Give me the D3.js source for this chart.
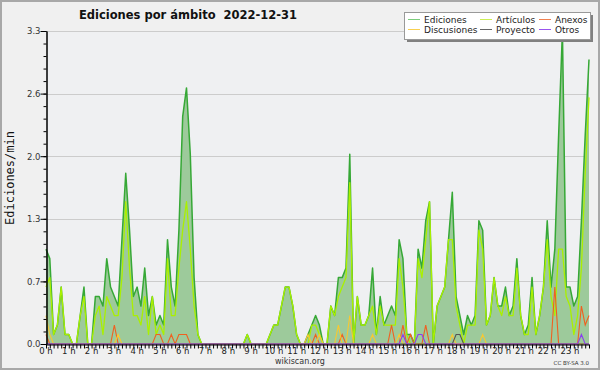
<!DOCTYPE html>
<html><head><meta charset="utf-8">
<script src="https://cdn.jsdelivr.net/npm/d3@7/dist/d3.min.js"></script>
<style>body{margin:0;background:#f0f0f0} svg{display:block}</style>
</head><body><svg id="c" width="600" height="370"></svg>
<script>
// ---- data (10-minute steps, edits/min) ----
const hourLabels = ["0 h","1 h","2 h","3 h","4 h","5 h","6 h","7 h","8 h","9 h","10 h","11 h","12 h","13 h","14 h","15 h","16 h","17 h","18 h","19 h","20 h","21 h","22 h","23 h"];
const yTickLabels = ["0.0","0.7","1.3","2.0","2.6","3.3"];
const yMax = 3.3;
const seriesNames = ["Ediciones","Artículos","Anexos","Discusiones","Proyecto","Otros"];
const ediciones = [1.0,0.9,0.1,0.2,0.6,0.1,0.1,0,0,0.3,
 0.6,0,0,0.5,0.5,0.4,0.9,0.6,0.5,0.4,
 1.1,1.8,1.2,0.5,0.6,0.4,0.8,0.3,0.5,0.2,
 0.3,0.2,1.1,0.6,0.4,1.2,2.4,2.7,2.0,0.7,
 0.1,0,0,0,0,0,0,0,0,0,
 0,0,0,0.1,0,0,0,0,0,0.1,
 0.2,0.2,0.4,0.6,0.6,0.4,0.1,0,0,0.1,
 0.2,0.3,0.2,0,0,0.4,0.3,0.7,0.7,0.8,
 2.0,0,0.5,0.2,0.2,0.3,0.8,0.1,0.5,0.2,
 0.3,0.4,0.3,1.1,0.9,0.1,0.1,0,1.0,0.8,
 1.3,1.5,0,0.4,0.5,0.6,1.1,1.6,0.5,0.3,
 0.1,0.3,0.2,0.3,1.3,1.2,0.2,0.3,0.7,0.4,
 0.4,0.6,0.3,0.4,0.9,0.3,0.1,0.2,0.7,0.1,
 0.3,0.6,1.3,0.6,1.0,2.2,3.3,0.6,0.6,0.4,
 0.5,1.3,2.2,3.0];
const articulos = [0.6,0.7,0.1,0.2,0.6,0.1,0.1,0,0,0.3,
 0.5,0,0,0.3,0.4,0.1,0.5,0.4,0.3,0.3,
 0.7,1.5,0.8,0.3,0.3,0.2,0.5,0.1,0.5,0.1,
 0.2,0.1,0.9,0.3,0.3,0.8,1.2,1.5,1.0,0.4,
 0.1,0,0,0,0,0,0,0,0,0,
 0,0,0,0.1,0,0,0,0,0,0.1,
 0.2,0.2,0.4,0.6,0.6,0.4,0.1,0,0,0,
 0.2,0.2,0.1,0,0,0.4,0.3,0.5,0.6,0.7,
 1.7,0,0.5,0.2,0.2,0.3,0.4,0.1,0.4,0.2,
 0.2,0.2,0.2,0.9,0.6,0.1,0,0,0.9,0.7,
 1.1,1.5,0,0.4,0.5,0.6,1.1,1.1,0.4,0.2,
 0,0.2,0.2,0.2,1.2,1.0,0.2,0.3,0.7,0.4,
 0.3,0.5,0.3,0.3,0.8,0.3,0.1,0.1,0.6,0.1,
 0.3,0.6,1.1,0.5,0.3,1.0,1.0,0.5,0.4,0.1,
 0.3,0.8,1.8,2.6];
const anexos = [0.1,0,0,0,0,0,0,0,0,0,
 0,0,0,0,0,0,0,0,0.2,0,
 0,0,0,0,0,0,0,0,0,0.1,
 0.1,0,0,0.1,0,0.1,0.1,0.1,0,0,
 0,0,0,0,0,0,0,0,0,0,
 0,0,0,0,0,0,0,0,0,0,
 0,0,0,0,0,0,0,0,0,0,
 0,0.1,0,0,0,0,0,0,0.1,0,
 0,0,0,0,0,0,0,0,0,0,
 0,0.2,0,0,0.2,0,0.1,0,0,0,
 0.2,0,0,0,0,0,0,0,0,0,
 0,0,0,0,0,0,0,0,0,0,
 0,0,0,0,0,0,0,0,0,0,
 0,0,0,0,0.6,0,0,0,0,0,
 0,0.4,0.2,0.3];
const discusiones = [0.3,0.1,0,0,0,0,0,0,0,0,
 0,0,0,0,0,0,0,0,0,0.1,
 0,0,0,0,0,0,0,0,0,0,
 0,0,0,0,0,0,0,0,0,0,
 0,0,0,0,0,0,0,0,0,0,
 0,0,0,0,0,0,0,0,0,0,
 0,0,0,0,0,0,0,0,0,0.1,
 0,0,0.1,0,0,0,0,0.2,0,0,
 0.3,0,0,0,0,0,0.1,0,0,0,
 0,0,0,0.1,0,0,0,0,0,0,
 0,0,0,0,0,0,0,0.1,0,0,
 0,0,0,0,0,0.1,0,0,0,0,
 0,0,0,0,0,0,0,0,0,0,
 0,0,0,0,0,0,0,0,0,0,
 0,0,0,0];
const proyecto = [0,0,0,0,0,0,0,0,0,0,
 0,0,0,0,0,0,0,0,0,0,
 0,0,0,0,0,0,0,0,0,0,
 0,0,0,0,0,0,0,0,0,0,
 0,0,0,0,0,0,0,0,0,0,
 0,0,0,0,0,0,0,0,0,0,
 0,0,0,0,0,0,0,0,0,0,
 0,0,0,0,0,0,0,0,0,0,
 0,0,0,0,0,0,0,0,0,0,
 0,0,0,0,0,0,0,0,0,0,
 0,0,0,0,0,0,0,0,0.1,0.1,
 0,0,0,0,0,0,0,0,0,0,
 0,0,0,0,0,0,0,0,0,0,
 0,0,0,0,0,0,0,0,0,0,
 0,0,0,0];
const otros = [0,0,0,0,0,0,0,0,0,0,
 0,0,0,0,0,0,0,0,0,0,
 0,0,0,0,0,0,0,0,0,0,
 0,0,0,0,0,0,0,0,0,0,
 0,0,0,0,0,0,0,0,0,0,
 0,0,0,0,0,0,0,0,0,0,
 0,0,0,0,0,0,0,0,0,0,
 0,0,0,0,0,0,0,0,0,0,
 0,0,0,0,0,0,0,0,0,0,
 0,0,0,0,0.1,0,0,0,0.1,0.1,
 0,0,0,0,0,0,0,0,0,0,
 0,0,0,0,0,0,0,0,0,0,
 0,0,0,0,0,0,0,0,0,0,
 0,0,0,0,0,0,0,0,0,0,
 0,0.1,0,0];

// ---- styles ----
const colors = {"Ediciones":"#36a836","Artículos":"#aaf000","Anexos":"#f06020","Discusiones":"#f8c830","Proyecto":"#555555","Otros":"#8a3ff0"};
const legendColors = {"Ediciones":"#7ccc7c","Artículos":"#ccee55","Anexos":"#f08050","Discusiones":"#f8d050","Proyecto":"#666666","Otros":"#9955ee"};
const FONT = "DejaVu Sans";

const svg = d3.select("#c");
svg.append("rect").attr("x",1).attr("y",1).attr("width",598).attr("height",368)
  .attr("fill","#f0f0f0").attr("stroke","#a8a8a8").attr("stroke-width",2);

const n = ediciones.length;
const x = d3.scaleLinear().domain([0, n-1]).range([46, 589]);
const y = d3.scaleLinear().domain([0, yMax]).range([344, 31]);

// plot background
svg.append("rect").attr("x",x(0)).attr("y",y(yMax)).attr("width",x(n-1)-x(0)).attr("height",y(0)-y(yMax)).attr("fill","#eff0f2");

// grid
const majorY = d3.range(6).map(i => yMax*i/5);
svg.append("g").selectAll("line").data(majorY.slice(1)).join("line")
  .attr("x1",x(0)).attr("x2",x(n-1)).attr("y1",d=>Math.round(y(d))+0.5).attr("y2",d=>Math.round(y(d))+0.5)
  .attr("stroke","#cccccc").attr("stroke-width",1);

// area + lines
const idx = d3.range(n);
const area = d3.area().x(i=>x(i)).y0(y(0)).y1(i=>y(ediciones[i]));
svg.append("path").datum(idx).attr("d",area).attr("fill","#9dca9b");
const lineOf = arr => d3.line().x(i=>x(i)).y(i=>y(arr[i]))(idx);
svg.append("path").attr("d",lineOf(ediciones)).attr("fill","none").attr("stroke",colors["Ediciones"]).attr("stroke-width",1.5).attr("stroke-linejoin","round");
svg.append("path").attr("d",lineOf(articulos)).attr("fill","none").attr("stroke",colors["Artículos"]).attr("stroke-width",1.3).attr("stroke-linejoin","round");
[[anexos,"Anexos"],[discusiones,"Discusiones"],[proyecto,"Proyecto"],[otros,"Otros"]].forEach(([arr,name])=>{
  svg.append("path").attr("d",lineOf(arr)).attr("fill","none").attr("stroke",colors[name]).attr("stroke-width",1.1);
});

// axes
const yAxisMinor = d3.axisLeft(y).tickValues(d3.range(26).map(i=>yMax*i/25)).tickSize(3).tickSizeOuter(0).tickFormat("");
const gyMinor = svg.append("g").attr("transform",`translate(${x(0)+0.5},0)`).call(yAxisMinor);
const yAxis = d3.axisLeft(y).tickValues(majorY).tickSize(6).tickSizeOuter(0).tickFormat((d,i)=>yTickLabels[i]);
const gy = svg.append("g").attr("transform",`translate(${x(0)+0.5},0)`).call(yAxis);
gy.selectAll("text").attr("font-family",FONT).attr("font-size",8.5).attr("fill","#333").attr("x",-6).attr("dy","0.33em");
[gy,gyMinor].forEach(g=>{g.selectAll("line,path").attr("stroke","#000");});

const xAxis = d3.axisBottom(x).tickValues(idx).tickSize(4).tickSizeOuter(0).tickFormat("");
const gx = svg.append("g").attr("transform",`translate(0,${y(0)+0.5})`).call(xAxis);
gx.selectAll("line,path").attr("stroke","#000");
svg.append("g").selectAll("text").data(hourLabels).join("text")
  .attr("x",(d,i)=>x(i*6)).attr("y",353.5).attr("text-anchor","middle")
  .attr("font-family",FONT).attr("font-size",8.5).attr("fill","#222").text(d=>d);

// titles
svg.append("text").attr("x",188).attr("y",19).attr("text-anchor","middle")
  .attr("font-family",FONT).attr("font-weight","bold").attr("font-size",11.5).attr("fill","#111")
  .style("white-space","pre")
  .text("Ediciones por ámbito  2022-12-31");
svg.append("text").attr("transform","translate(14,178) rotate(-90)").attr("text-anchor","middle")
  .attr("font-family","DejaVu Sans Mono").attr("font-size",12).attr("fill","#111").text("Ediciones/min");
svg.append("text").attr("x",300).attr("y",364).attr("text-anchor","middle")
  .attr("font-family",FONT).attr("font-size",8).attr("fill","#333").text("wikiscan.org");
svg.append("text").attr("x",589).attr("y",364.5).attr("text-anchor","end")
  .attr("font-family",FONT).attr("font-size",5.5).attr("fill","#333").text("CC BY-SA 3.0");

// legend
svg.append("rect").attr("x",407).attr("y",15).attr("width",186).attr("height",27).attr("fill","#808080");
svg.append("rect").attr("x",404.5).attr("y",12.5).attr("width",186).attr("height",27).attr("fill","#ffffff").attr("stroke","#999").attr("stroke-width",1);
const legendLayout = [
  {name:"Ediciones", col:0,row:0},{name:"Artículos",col:1,row:0},{name:"Anexos",col:2,row:0},
  {name:"Discusiones",col:0,row:1},{name:"Proyecto",col:1,row:1},{name:"Otros",col:2,row:1}];
const colX = [408,480,539], rowY = [19.5,29.5];
const lg = svg.append("g").selectAll("g").data(legendLayout).join("g")
  .attr("transform",d=>`translate(${colX[d.col]},${rowY[d.row]})`);
lg.append("line").attr("x1",0).attr("x2",12).attr("y1",0).attr("y2",0).attr("stroke",d=>legendColors[d.name]).attr("stroke-width",1);
lg.append("text").attr("x",16).attr("y",3.3).attr("font-family",FONT).attr("font-size",9).attr("fill","#222").text(d=>d.name);
</script></body></html>
